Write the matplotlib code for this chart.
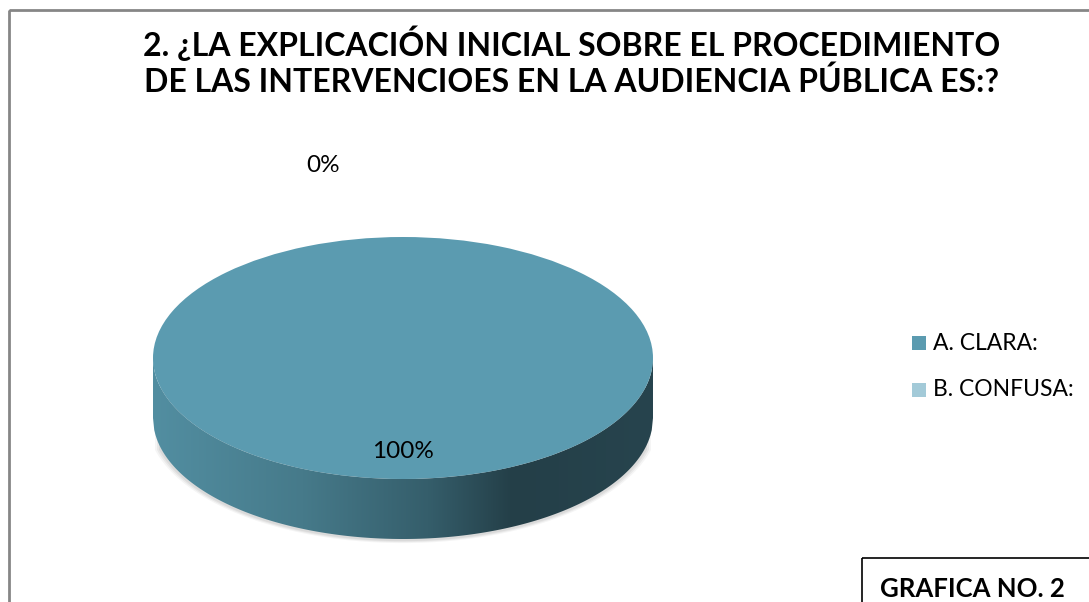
import numpy as np
import matplotlib.pyplot as plt
from matplotlib.colors import LinearSegmentedColormap
from matplotlib.patches import Rectangle, Polygon

# data
categories = ['A. CLARA:', 'B. CONFUSA:']
values = [100, 0]
pct_labels = ['100%', '0%']
colors = ['#5B9BB0', '#A3CAD8']
title_lines = ['2. ¿LA EXPLICACIÓN INICIAL SOBRE EL PROCEDIMIENTO',
               'DE LAS INTERVENCIOES EN LA AUDIENCIA PÚBLICA ES:?']

W, H = 1089, 602
plt.rcParams['font.family'] = ['Lato', 'DejaVu Sans']

fig = plt.figure(figsize=(W / 100, H / 100), dpi=100)

# background axes in pixel coordinates
bg = fig.add_axes([0, 0, 1, 1])
bg.set_xlim(0, W)
bg.set_ylim(H, 0)
bg.axis('off')
bg.add_patch(Rectangle((8.5, 9.5), 1200, 700, fill=False, ec='#868686', lw=2))
bg.text(572, 43, title_lines[0], ha='center', va='center', fontsize=23, fontweight='bold')
bg.text(572, 82, title_lines[1], ha='center', va='center', fontsize=23, fontweight='bold')

# pie axes: top face ellipse spans x 153..653, y 237..479 (pixels)
cx, cy, rx, ry = 403, 358, 250, 121
depth = 60 / ry
ybot_px = 548
ax = fig.add_axes([(cx - rx) / W, 1 - ybot_px / H, 2 * rx / W, (ybot_px - (cy - ry)) / H])
ylo = 1 - (ybot_px - (cy - ry)) / ry

# soft shadow under the side
t = np.linspace(np.pi * 1.08, np.pi * 1.92, 200)
for k, a in enumerate([0.04, 0.05, 0.06]):
    s = 0.008 * (3 - k)
    sx = np.cos(t) * (1 + s)
    sy = np.sin(t) * (1 + s) - depth - 0.01
    ax.fill(np.r_[sx, sx[::-1]], np.r_[sy, np.zeros_like(sy) - depth * 0.5],
            color='#000000', alpha=a, lw=0, zorder=1)

# side of the cylinder with horizontal gradient
xs = np.linspace(-1, 1, 400)
top_edge = -np.sqrt(1 - xs ** 2)
bottom_edge = top_edge - depth
side = Polygon(np.c_[np.r_[xs, xs[::-1]], np.r_[top_edge, bottom_edge[::-1]]],
               closed=True, fc='none', ec='none')
ax.add_patch(side)
cmap = LinearSegmentedColormap.from_list('side', [
    (0.0, '#528EA1'), (0.3, '#467A8A'), (0.55, '#355E6B'),
    (0.72, '#243F48'), (1.0, '#27444E')])
grad = np.tile(np.linspace(0, 1, 256), (10, 1))
im = ax.imshow(grad, cmap=cmap, extent=[-1, 1, -1 - depth, 0], aspect='auto',
               zorder=2, interpolation='bilinear')
im.set_clip_path(side)

# top face from the values
wedges, _ = ax.pie(values, colors=colors, startangle=90, counterclock=False,
                   radius=1, wedgeprops=dict(lw=0))
for w in wedges:
    w.set_zorder(3)
ax.set_xlim(-1, 1)
ax.set_ylim(ylo, 1)
ax.set_aspect('auto')
ax.axis('off')

# percentage labels (data coords of the pie axes)
ax.text(0, (cy - 451) / ry, pct_labels[0], ha='center', va='center', fontsize=17.5, zorder=5)
bg.text(323, 165, pct_labels[1], ha='center', va='center', fontsize=17.5)

# legend
for i, (lab, c) in enumerate(zip(categories, colors)):
    y = 343 + i * 47
    bg.add_patch(Rectangle((912, y - 7), 14, 14, fc=c, ec='none'))
    bg.text(933, y, lab, ha='left', va='center', fontsize=16.5)

# caption box
bg.add_patch(Rectangle((862, 558), 300, 100, fill=False, ec='black', lw=1.2))
bg.text(972, 589, 'GRAFICA NO. 2', ha='center', va='center', fontsize=18.5,
        fontweight='bold')

fig.savefig('out.png', dpi=100)
